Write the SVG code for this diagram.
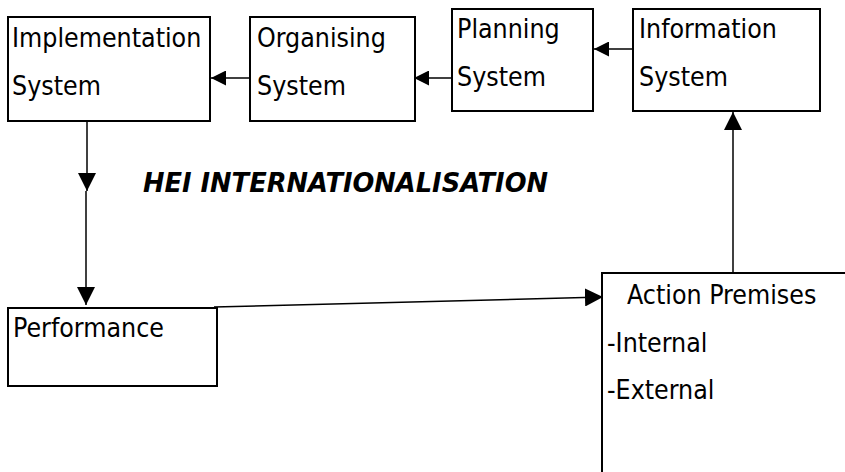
<svg xmlns="http://www.w3.org/2000/svg" width="845" height="472" viewBox="0 0 845 472">
  <style>
    .box { fill: #ffffff; stroke: #000000; stroke-width: 2; }
    .lbl { font-family: "DejaVu Sans Condensed", "DejaVu Sans", sans-serif; font-size: 26.5px; fill: #000000; }
    .title { font-family: "DejaVu Sans", Verdana, sans-serif; font-size: 26px; font-weight: bold; font-style: italic; fill: #000000; }
    .conn { fill: none; stroke: #000000; stroke-width: 1.5; }
  </style>
  <defs>
    <marker id="arrow-s" viewBox="0 0 10 10" refX="10" refY="5" markerUnits="userSpaceOnUse" markerWidth="15" markerHeight="15" orient="auto">
      <path d="M0,0 L10,5 L0,10 Z" fill="#000000"/>
    </marker>
    <marker id="arrow-l" viewBox="0 0 10 10" refX="10" refY="5" markerUnits="userSpaceOnUse" markerWidth="18" markerHeight="18" orient="auto">
      <path d="M0,0 L10,5 L0,10 Z" fill="#000000"/>
    </marker>
  </defs>

  <rect width="845" height="472" fill="#ffffff"/>

  <g id="implementation">
    <rect class="box" x="8" y="17" width="202" height="104"/>
    <text class="lbl" x="12" y="47">Implementation</text>
    <text class="lbl" x="12" y="95">System</text>
  </g>

  <g id="organising">
    <rect class="box" x="250" y="17" width="165" height="104"/>
    <text class="lbl" x="257" y="47">Organising</text>
    <text class="lbl" x="257" y="95">System</text>
  </g>

  <g id="planning">
    <rect class="box" x="452" y="9" width="141" height="102"/>
    <text class="lbl" x="457" y="38">Planning</text>
    <text class="lbl" x="457" y="86">System</text>
  </g>

  <g id="information">
    <rect class="box" x="633" y="9" width="187" height="102"/>
    <text class="lbl" x="639" y="38">Information</text>
    <text class="lbl" x="639" y="86">System</text>
  </g>

  <g id="performance">
    <rect class="box" x="8" y="308" width="209" height="78"/>
    <text class="lbl" x="13" y="337">Performance</text>
  </g>

  <g id="action-premises">
    <rect class="box" x="602" y="273" width="260" height="220"/>
    <text class="lbl" x="627" y="304">Action Premises</text>
    <text class="lbl" x="607" y="352">-Internal</text>
    <text class="lbl" x="607" y="399">-External</text>
  </g>

  <g id="heading">
    <text class="title" x="143" y="192" textLength="405" lengthAdjust="spacingAndGlyphs">HEI INTERNATIONALISATION</text>
  </g>

  <g id="connectors">
    <line class="conn" x1="250" y1="78" x2="211" y2="78" marker-end="url(#arrow-s)"/>
    <line class="conn" x1="452" y1="78" x2="414" y2="78" marker-end="url(#arrow-s)"/>
    <line class="conn" x1="633" y1="49" x2="594" y2="49" marker-end="url(#arrow-s)"/>
    <line class="conn" x1="87" y1="122" x2="87" y2="191" marker-end="url(#arrow-l)"/>
    <line class="conn" x1="86" y1="191" x2="86" y2="305" marker-end="url(#arrow-l)"/>
    <line class="conn" x1="214" y1="307" x2="603" y2="297" marker-end="url(#arrow-l)"/>
    <line class="conn" x1="733" y1="272" x2="733" y2="112" marker-end="url(#arrow-l)"/>
  </g>
</svg>
